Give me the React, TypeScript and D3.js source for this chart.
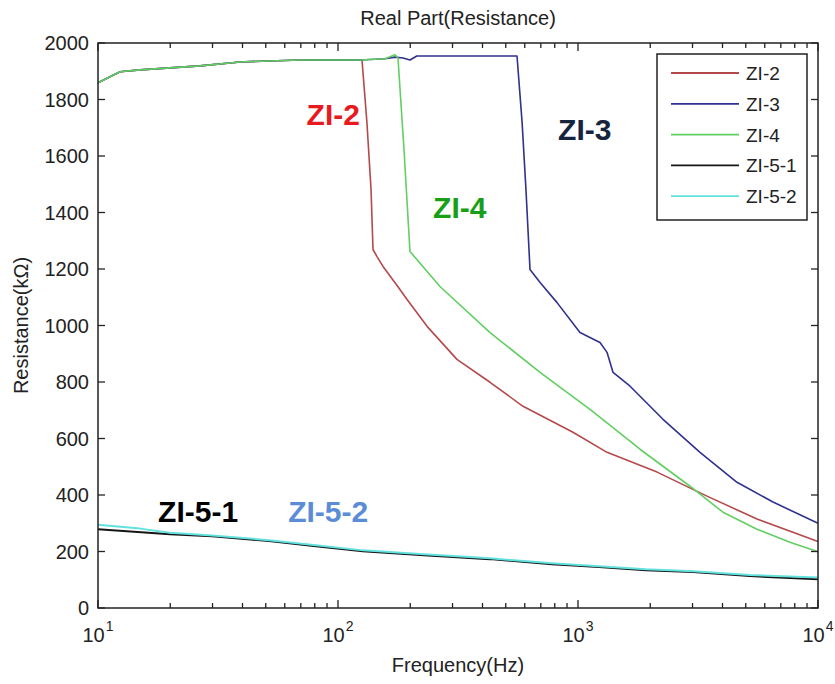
import React from 'react';
import { scaleLog, scaleLinear, line, range } from 'd3';

// series values (frequency in Hz, resistance in kOhm)
const zi2Freq = [10, 12.35, 14.96, 19.95, 26.6, 39.1, 69.5, 123.5, 125.9, 132, 137.3, 139.9, 145.4, 154, 175, 194, 235, 313, 430, 590, 953, 1321, 2135, 3447, 5569, 10000];
const zi2Res = [1859, 1898, 1905, 1912, 1919, 1933, 1940, 1940, 1940, 1718, 1481, 1269, 1244, 1209, 1145, 1092, 997, 880, 799, 714, 622, 551, 481, 396, 315, 235];

const zi3Freq = [10, 12.35, 14.96, 19.95, 26.6, 39.1, 69.5, 123.5, 157, 172.8, 186.7, 199.5, 213, 293, 557, 585, 607, 631, 695, 818, 1019, 1235, 1321, 1400, 1648, 2260, 3224, 4597, 6494, 10000];
const zi3Res = [1859, 1898, 1905, 1912, 1919, 1933, 1940, 1940, 1944, 1950, 1947, 1940, 1954, 1954, 1954, 1718, 1481, 1198, 1152, 1081, 975, 940, 905, 834, 785, 668, 551, 445, 375, 300];

const zi4Freq = [10, 12.35, 14.96, 19.95, 26.6, 39.1, 69.5, 123.5, 157, 172.8, 177.8, 188.4, 199.5, 266, 430, 695, 1122, 1813, 2929, 4018, 5569, 7638, 10000];
const zi4Res = [1859, 1898, 1905, 1912, 1919, 1933, 1940, 1940, 1944, 1958, 1947, 1622, 1262, 1138, 975, 834, 703, 562, 431, 339, 279, 233, 199];

const zi51Freq = [10, 19.95, 29.9, 51.6, 81, 127, 228, 430, 779, 1223, 1920, 3013, 5207, 10000];
const zi51Res = [279, 261, 254, 237, 219, 201, 187, 173, 155, 145, 134, 127, 113, 102];

const zi52Freq = [10, 14.96, 19.95, 29.9, 51.6, 81, 127, 228, 430, 779, 1223, 1920, 3013, 5207, 10000];
const zi52Res = [295, 281, 266, 257, 240, 222, 204, 190, 176, 158, 148, 137, 130, 117, 108];

const seriesNames = ['ZI-2', 'ZI-3', 'ZI-4', 'ZI-5-1', 'ZI-5-2'];
const seriesColors = ['#b4494b', '#31318f', '#62cf62', '#151515', '#62e2de'];

const yTicks = [0, 200, 400, 600, 800, 1000, 1200, 1400, 1600, 1800, 2000];
const xDecades = [1, 2, 3, 4];

// in-plot labels (anchored in data units)
const notes = [
  { text: 'ZI-2', f: 74, r: 1710, color: '#e81a1f' },
  { text: 'ZI-3', f: 826, r: 1657, color: '#17243d' },
  { text: 'ZI-4', f: 249, r: 1381, color: '#17a017' },
  { text: 'ZI-5-1', f: 17.8, r: 305, color: '#000000' },
  { text: 'ZI-5-2', f: 62, r: 305, color: '#5b8cd8' },
];

const W = 835;
const H = 684;
const left = 98;
const right = 818;
const top = 43;
const bottom = 608;
const font = '"Liberation Sans", Arial, sans-serif';

export default function App() {
  const x = scaleLog().domain([10, 10000]).range([left, right]);
  const y = scaleLinear().domain([0, 2000]).range([bottom, top]);

  const data = [
    zi2Freq.map((f, i) => [f, zi2Res[i]]),
    zi3Freq.map((f, i) => [f, zi3Res[i]]),
    zi4Freq.map((f, i) => [f, zi4Res[i]]),
    zi51Freq.map((f, i) => [f, zi51Res[i]]),
    zi52Freq.map((f, i) => [f, zi52Res[i]]),
  ];

  const path = line<number[]>()
    .x((d) => x(d[0]))
    .y((d) => y(d[1]));

  // minor ticks 2..9 in every decade
  const minor: number[] = [];
  [10, 100, 1000].forEach((base) => {
    range(2, 10).forEach((m) => minor.push(base * m));
  });
  const major = [10, 100, 1000, 10000];

  const legX = 657;
  const legY = 54;
  const legRow = 30.8;

  return (
    <svg
      width={W}
      height={H}
      style={{ position: 'absolute', left: 0, top: 0, background: '#fff' }}
      fontFamily={font}
    >
      <rect x={0} y={0} width={W} height={H} fill='#fff' />

      {/* title */}
      <text x={(left + right) / 2} y={25} textAnchor='middle' fontSize={20} fill='#222'>
        Real Part(Resistance)
      </text>

      {/* curves */}
      <g fill='none' strokeLinejoin='round'>
        {data.map((d, i) => (
          <path
            key={seriesNames[i]}
            d={path(d) || ''}
            stroke={seriesColors[i]}
            strokeWidth={i >= 3 ? 2 : 1.6}
          />
        ))}
      </g>

      {/* axes box */}
      <rect
        x={left}
        y={top}
        width={right - left}
        height={bottom - top}
        fill='none'
        stroke='#222'
        strokeWidth={1.5}
      />

      {/* ticks, pointing inward on all four sides */}
      <g stroke='#222' strokeWidth={1.3}>
        {yTicks.map((t) => (
          <g key={t}>
            <line x1={left} x2={left + 7} y1={y(t)} y2={y(t)} />
            <line x1={right} x2={right - 7} y1={y(t)} y2={y(t)} />
          </g>
        ))}
        {major.map((t) => (
          <g key={t}>
            <line x1={x(t)} x2={x(t)} y1={bottom} y2={bottom - 8} />
            <line x1={x(t)} x2={x(t)} y1={top} y2={top + 8} />
          </g>
        ))}
        {minor.map((t) => (
          <g key={t}>
            <line x1={x(t)} x2={x(t)} y1={bottom} y2={bottom - 5} />
            <line x1={x(t)} x2={x(t)} y1={top} y2={top + 5} />
          </g>
        ))}
      </g>

      <g fontSize={20} fill='#222'>
        {yTicks.map((t) => (
          <text key={t} x={left - 9} y={y(t) + 7} textAnchor='end'>
            {t}
          </text>
        ))}
        {xDecades.map((e) => (
          <text key={e} x={x(Math.pow(10, e))} y={642} textAnchor='middle'>
            10
            <tspan fontSize={14} dy={-11} dx={1}>
              {e}
            </tspan>
          </text>
        ))}
        <text x={(left + right) / 2} y={672} textAnchor='middle'>
          Frequency(Hz)
        </text>
        <text
          transform={`translate(28, ${(top + bottom) / 2}) rotate(-90)`}
          textAnchor='middle'
        >
          Resistance(kΩ)
        </text>
      </g>

      {/* annotations */}
      <g fontSize={30} fontWeight='bold'>
        {notes.map((n) => (
          <text key={n.text} x={x(n.f)} y={y(n.r)} fill={n.color}>
            {n.text}
          </text>
        ))}
      </g>

      {/* legend */}
      <rect x={legX} y={legY} width={150} height={166} fill='#fff' stroke='#222' strokeWidth={1.5} />
      {seriesNames.map((name, i) => {
        const ly = legY + 19 + i * legRow;
        return (
          <g key={name}>
            <line x1={legX + 14} x2={legX + 82} y1={ly} y2={ly} stroke={seriesColors[i]} strokeWidth={1.8} />
            <text x={legX + 89} y={ly + 7} fontSize={19} fill='#222'>
              {name}
            </text>
          </g>
        );
      })}
    </svg>
  );
}
